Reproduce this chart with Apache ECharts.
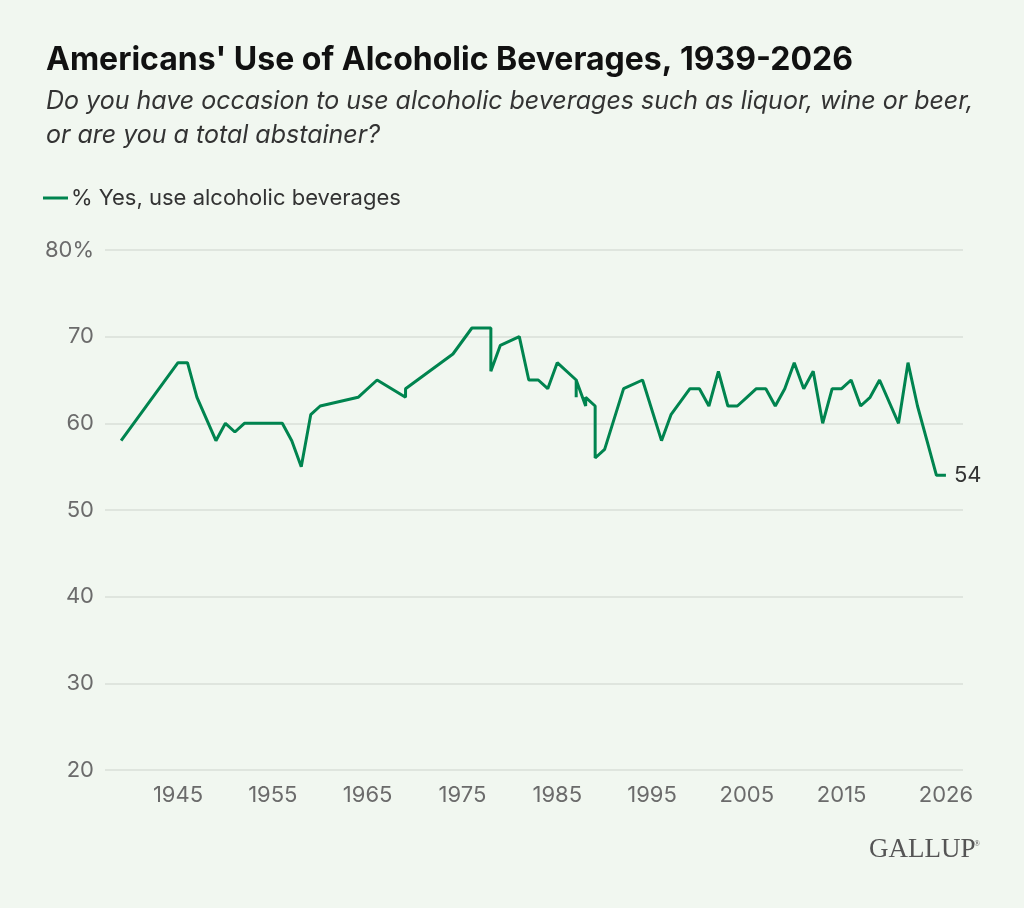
<!DOCTYPE html>
<html>
<head>
<meta charset="utf-8">
<title>Americans' Use of Alcoholic Beverages</title>
<script src="https://cdn.jsdelivr.net/npm/echarts@6/dist/echarts.min.js"></script>
<style>
  html, body { margin: 0; padding: 0; background: #f1f7f0; }
  #chart { width: 1024px; height: 908px; }
</style>
</head>
<body>
<div id="chart"></div>
<script>
// survey years (some years have two readings)
var years = [1939, 1945, 1946, 1947, 1949, 1950, 1951, 1952, 1956, 1957,
  1958, 1959, 1960, 1964, 1966, 1969, 1969, 1974, 1976, 1977,
  1978, 1978, 1979, 1981, 1982, 1983, 1984, 1985, 1987, 1987,
  1987, 1988, 1988, 1989, 1989, 1990, 1992, 1994, 1996, 1997,
  1999, 2000, 2001, 2002, 2003, 2004, 2005, 2006, 2007, 2008,
  2009, 2010, 2011, 2012, 2013, 2014, 2015, 2016, 2017, 2018,
  2019, 2021, 2022, 2023, 2024, 2025, 2026];
// % yes, use alcoholic beverages
var yesPct = [58, 67, 67, 63, 58, 60, 59, 60, 60, 58,
  55, 61, 62, 63, 65, 63, 64, 68, 71, 71,
  71, 66, 69, 70, 65, 65, 64, 67, 65, 63,
  65, 62, 63, 62, 56, 57, 64, 65, 58, 61,
  64, 64, 62, 66, 62, 62, 63, 64, 64, 62,
  64, 67, 64, 66, 60, 64, 64, 65, 62, 63,
  65, 60, 67, 62, 58, 54, 54];
var xTickYears = [1945, 1955, 1965, 1975, 1985, 1995, 2005, 2015, 2026];
var seriesName = '% Yes, use alcoholic beverages';

var green = '#00844f';
var chart = echarts.init(document.getElementById('chart'));

var lineData = years.map(function (y, i) { return [y, yesPct[i]]; });

chart.setOption({
  backgroundColor: '#f1f7f0',
  textStyle: { fontFamily: 'Inter, "Noto Sans", sans-serif' },
  title: {
    left: 41,
    top: 39,
    text: "Americans' Use of Alcoholic Beverages, 1939-2026",
    textStyle: { fontSize: 32, fontWeight: 'bold', color: '#111111' },
    subtext: 'Do you have occasion to use alcoholic beverages such as liquor, wine or beer,\nor are you a total abstainer?',
    subtextStyle: { fontSize: 25, fontStyle: 'italic', color: '#333333', lineHeight: 34 },
    itemGap: 8
  },
  legend: {
    left: 38,
    top: 182,
    icon: 'rect',
    itemWidth: 25,
    itemHeight: 3,
    itemGap: 10,
    textStyle: { fontSize: 22, color: '#333333', padding: [0, 0, 0, -2] },
    data: [seriesName]
  },
  grid: { left: 105, right: 61, top: 250, bottom: 138 },
  xAxis: {
    type: 'value',
    min: 1937.3,
    max: 2027.8,
    axisLine: { show: false },
    axisTick: { show: false },
    splitLine: { show: false },
    axisLabel: {
      customValues: xTickYears,
      formatter: function (v) { return String(v); },
      color: '#6b6b6b',
      fontSize: 22,
      margin: 14
    }
  },
  yAxis: {
    type: 'value',
    min: 20,
    max: 80,
    interval: 10,
    axisLine: { show: false },
    axisTick: { show: false },
    splitLine: { lineStyle: { color: '#d9dfd8', width: 1.5 } },
    axisLabel: {
      formatter: function (v) { return v === 80 ? '80%' : String(v); },
      color: '#6b6b6b',
      fontSize: 22,
      margin: 11
    }
  },
  series: [{
    name: seriesName,
    type: 'line',
    data: lineData,
    showSymbol: false,
    color: green,
    lineStyle: { width: 3, color: green },
    endLabel: {
      show: true,
      formatter: function (p) { return String(p.value[1]); },
      color: '#333333',
      fontSize: 22,
      distance: 8
    },
    animation: false
  }],
  graphic: [{
    type: 'text',
    left: 869,
    top: 836,
    style: {
      text: 'GALLUP',
      fontFamily: '"Liberation Serif", serif',
      fontSize: 27,
      fill: '#555555'
    }
  }, {
    type: 'text',
    left: 974,
    top: 840,
    style: {
      text: '®',
      fontFamily: '"Liberation Serif", serif',
      fontSize: 8,
      fill: '#555555'
    }
  }]
});
</script>
</body>
</html>
